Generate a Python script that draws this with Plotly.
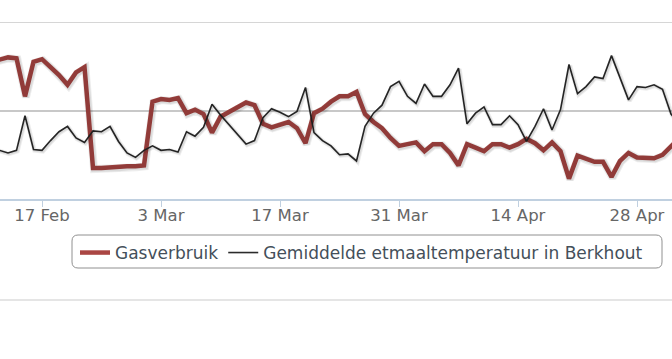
import pandas as pd
import plotly.graph_objects as go

# Daily data, 11 Feb 2014 .. 3 May 2014
dates = pd.date_range("2014-02-11", periods=82, freq="D")

gasverbruik = [
    15.5, 15.7, 16.0, 15.9, 11.6, 15.5, 15.8, 14.9, 14.0, 12.9,
    14.3, 14.9, 3.5, 3.5, 3.6, 3.6, 3.7, 3.7, 3.8, 11.0,
    11.3, 11.2, 11.4, 9.7, 10.1, 9.6, 7.5, 9.3, 9.8, 10.4,
    10.9, 10.6, 8.5, 8.1, 8.4, 8.7, 8.0, 6.3, 9.7, 10.2,
    11.0, 11.6, 11.6, 12.1, 9.6, 8.7, 8.0, 6.9, 6.0, 6.2,
    6.4, 5.4, 6.2, 6.2, 5.2, 3.8, 6.2, 5.8, 5.4, 6.2,
    6.2, 5.8, 6.2, 6.8, 6.3, 5.5, 6.4, 5.4, 2.3, 4.9,
    4.5, 4.2, 4.2, 2.5, 4.3, 5.2, 4.7, 4.6, 4.6, 5.0,
    6.0, 6.9,
]

temperatuur = [
    5.8, 5.5, 5.2, 5.5, 9.4, 5.6, 5.5, 6.6, 7.6, 8.2,
    6.9, 6.4, 7.7, 7.6, 8.2, 6.5, 5.2, 4.7, 5.5, 6.0,
    5.5, 5.6, 5.3, 7.6, 7.1, 8.1, 10.7, 9.5, 8.4, 7.3,
    6.2, 6.6, 9.2, 10.2, 9.8, 9.3, 9.9, 12.6, 7.5, 6.6,
    6.0, 5.0, 5.1, 4.3, 8.2, 9.7, 10.6, 12.7, 13.3, 11.6,
    10.8, 13.0, 11.6, 11.6, 12.9, 14.8, 8.5, 9.7, 10.4, 8.4,
    8.4, 9.4, 8.4, 6.5, 8.2, 10.2, 7.8, 10.1, 15.2, 11.9,
    12.7, 13.8, 13.6, 16.2, 13.8, 11.2, 12.7, 12.6, 12.9, 12.4,
    9.6, 8.4,
]

tick_labels = ["17 Feb", "3 Mar", "17 Mar", "31 Mar", "14 Apr", "28 Apr"]
tick_dates = pd.date_range("2014-02-17", periods=6, freq="14D")

W, H = 672, 359
TOP, BOTTOM = 22, 199
X_RANGE = [pd.Timestamp("2014-02-12 01:25"), pd.Timestamp("2014-05-02 02:50")]
Y_RANGE = [0, 20]

# pixel -> data offset for a 1px shadow (applied through shifted axes)
span_ms = (X_RANGE[1] - X_RANGE[0]).total_seconds() * 1000
px_x = pd.Timedelta(milliseconds=span_ms / W)
px_y = (Y_RANGE[1] - Y_RANGE[0]) / (BOTTOM - TOP)

RED = "#AA4643"
BLACK = "#2b2b2b"
GRID = "#C8C8C8"

fig = go.Figure()

# shadows (on shifted overlay axes)
for vals, w in [(gasverbruik, 8), (temperatuur, 4.5)]:
    fig.add_trace(go.Scatter(x=dates, y=vals, mode="lines", xaxis="x2", yaxis="y3",
                             line=dict(color="rgba(0,0,0,0.07)", width=w),
                             showlegend=False, hoverinfo="skip"))
    fig.add_trace(go.Scatter(x=dates, y=vals, mode="lines", xaxis="x2", yaxis="y3",
                             line=dict(color="rgba(0,0,0,0.08)", width=w - 2),
                             showlegend=False, hoverinfo="skip"))

fig.add_trace(go.Scatter(x=dates, y=gasverbruik, mode="lines", name="Gasverbruik",
                         line=dict(color=RED, width=4.5)))
fig.add_trace(go.Scatter(x=dates, y=temperatuur, mode="lines",
                         name="Gemiddelde etmaaltemperatuur in Berkhout",
                         yaxis="y2", line=dict(color=BLACK, width=1.6)))

def py(y):
    return (BOTTOM - y) / (BOTTOM - TOP)

def px(x):
    return x / W

# rounded legend box
x0, x1, y0, y1, r = 72, 662, 235, 268, 6
rx, ry = r / W, r / (BOTTOM - TOP)
X0, X1, Y0, Y1 = px(x0), px(x1), py(y0), py(y1)
path = (f"M {X0+rx},{Y0} L {X1-rx},{Y0} Q {X1},{Y0} {X1},{Y0-ry} "
        f"L {X1},{Y1+ry} Q {X1},{Y1} {X1-rx},{Y1} L {X0+rx},{Y1} "
        f"Q {X0},{Y1} {X0},{Y1+ry} L {X0},{Y0-ry} Q {X0},{Y0} {X0+rx},{Y0} Z")

fig.update_layout(
    width=W, height=H,
    margin=dict(l=0, r=0, t=TOP, b=H - BOTTOM),
    paper_bgcolor="white", plot_bgcolor="white",
    font=dict(family="DejaVu Sans", size=16, color="#666666"),
    xaxis=dict(type="date", range=X_RANGE, tickvals=tick_dates, ticktext=tick_labels,
               showgrid=False, showline=True, linecolor="#C0D0E0", linewidth=2,
               ticks="outside", ticklen=6, tickwidth=1, tickcolor="#C0D0E0",
               ticklabelstandoff=-6,
               tickfont=dict(family="DejaVu Sans", size=16.5, color="#666666"),
               zeroline=False, fixedrange=True),
    xaxis2=dict(type="date", overlaying="x", range=[X_RANGE[0] - px_x, X_RANGE[1] - px_x],
                visible=False),
    yaxis=dict(range=Y_RANGE, dtick=10, showgrid=True, gridcolor=GRID, gridwidth=1.5,
               showticklabels=False, zeroline=False, ticks=""),
    yaxis2=dict(range=Y_RANGE, overlaying="y", visible=False),
    yaxis3=dict(range=[Y_RANGE[0] + px_y, Y_RANGE[1] + px_y], overlaying="y", visible=False),
    showlegend=True,
    legend=dict(orientation="h", x=px(75), xanchor="left", y=py(235), yanchor="top",
                bgcolor="rgba(0,0,0,0)", borderwidth=0,
                font=dict(family="DejaVu Sans", size=17, color="#444f5a")),
    shapes=[
        dict(type="line", xref="paper", yref="y", x0=0, x1=1, y0=Y_RANGE[1], y1=Y_RANGE[1],
             line=dict(color=GRID, width=1.5), layer="below"),
        dict(type="path", xref="paper", yref="paper", path=path,
             line=dict(color="#909090", width=1), fillcolor="rgba(0,0,0,0)"),
        dict(type="line", xref="paper", yref="paper", x0=0, x1=1, y0=py(300), y1=py(300),
             line=dict(color="#DCDCDC", width=1.5)),
    ],
)

fig.write_html("out.html")
